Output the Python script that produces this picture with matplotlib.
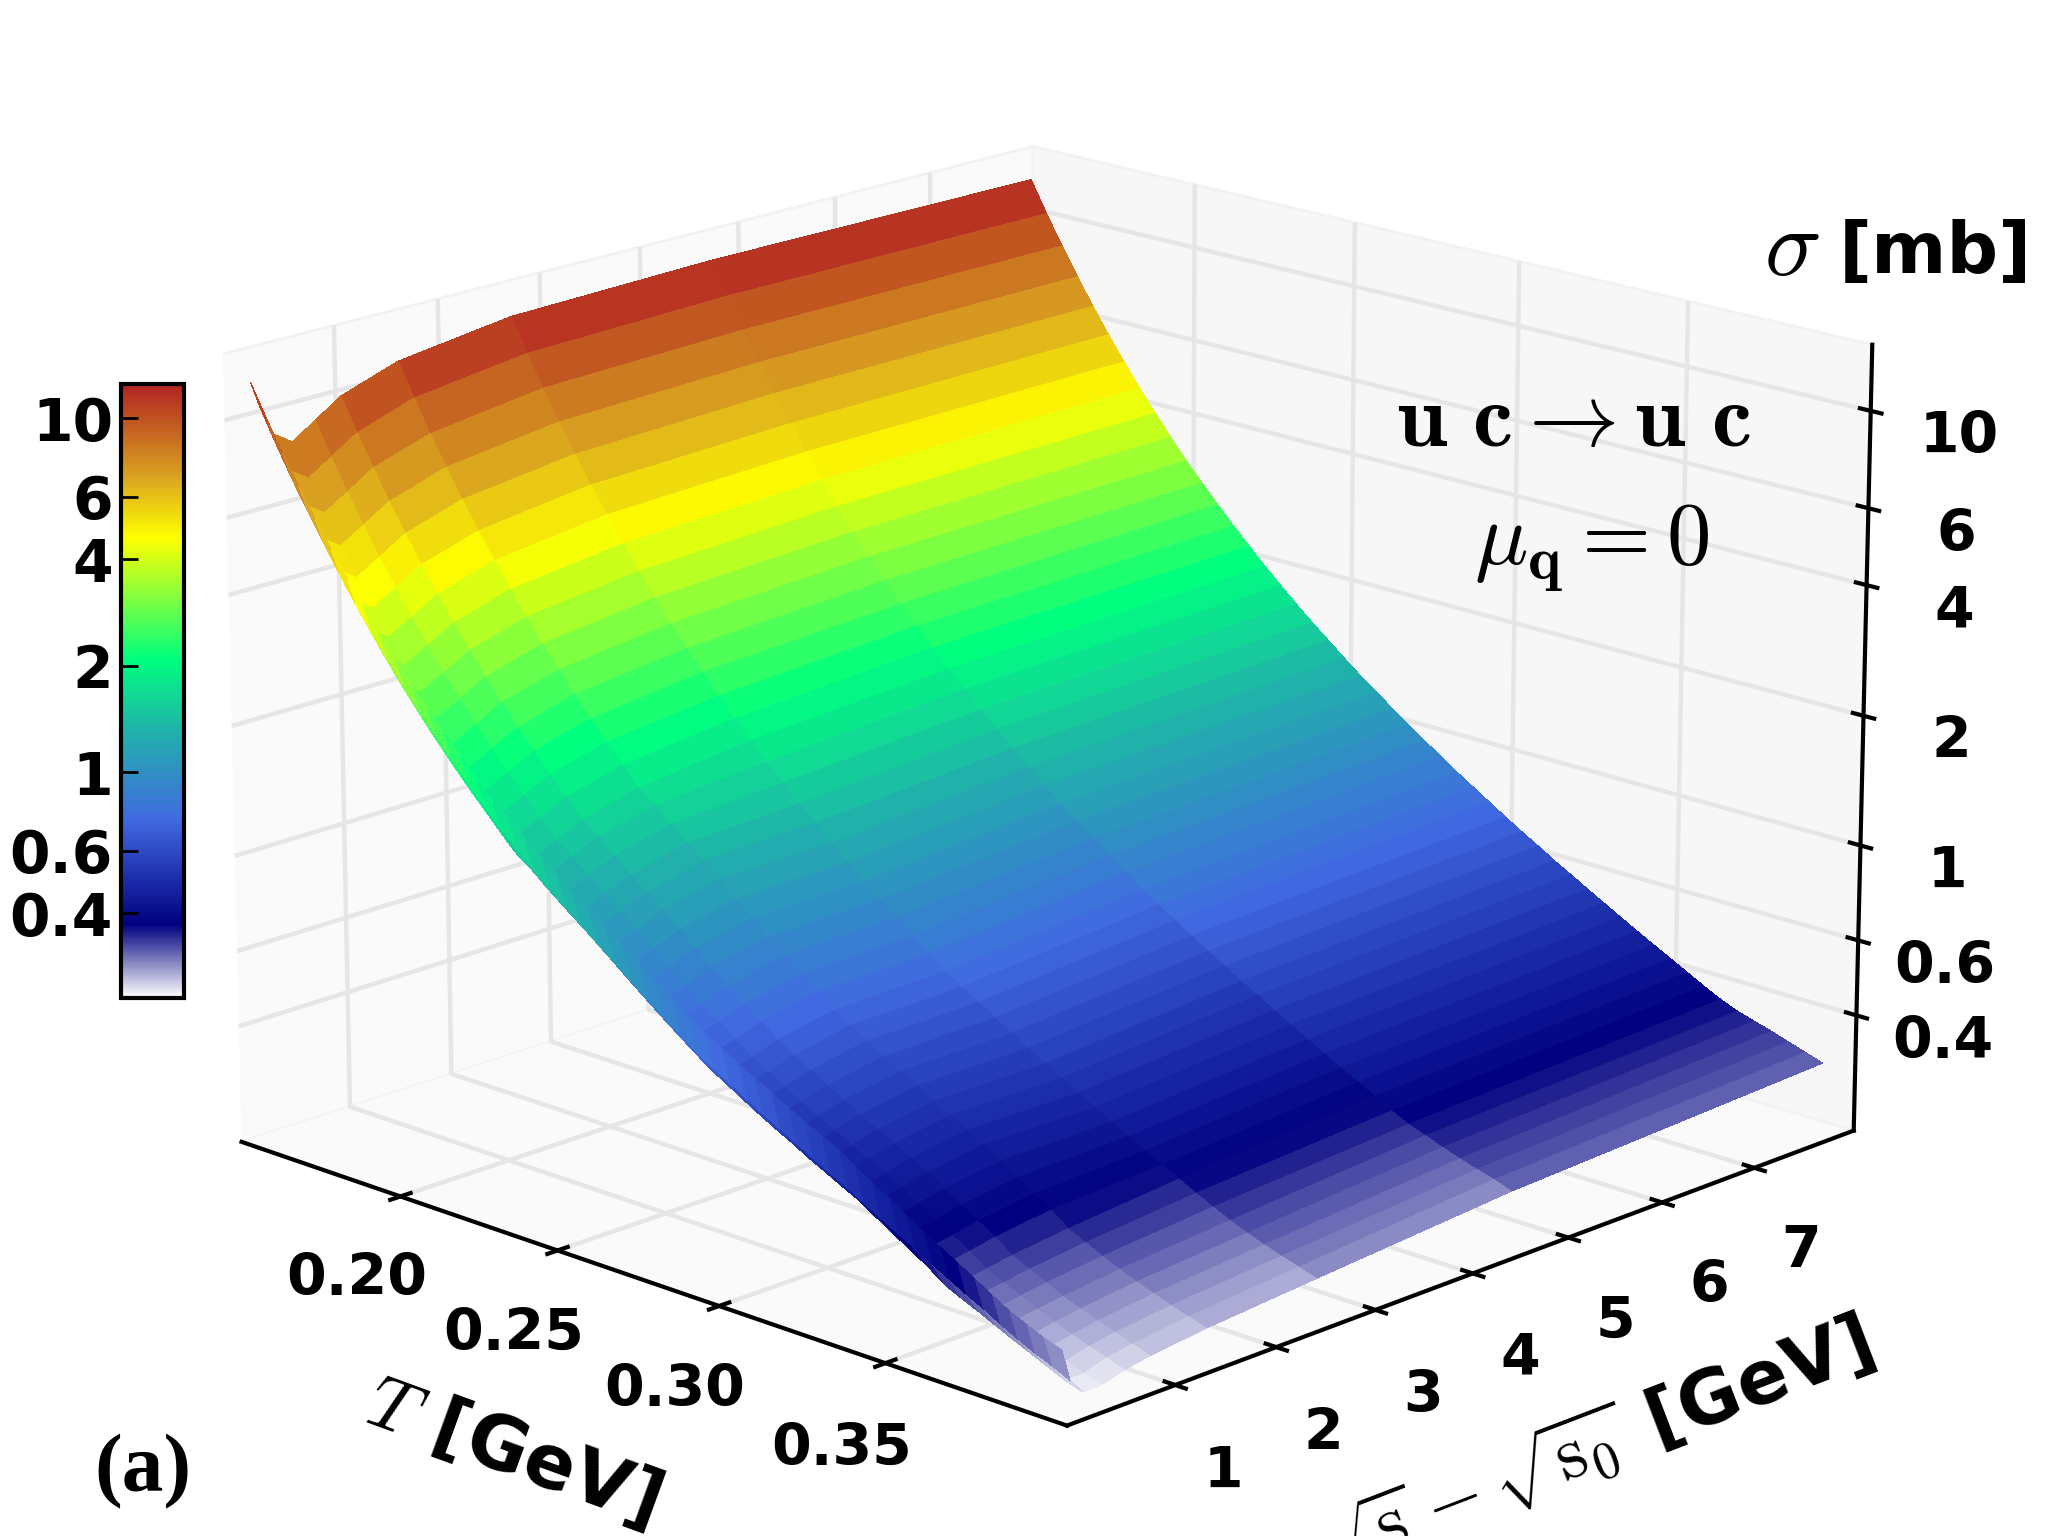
#!/usr/bin/env python3
"""
Cross section u c -> u c as a surface over temperature and energy.
"""

import numpy as np
import matplotlib
matplotlib.use("Agg")
import matplotlib.pyplot as plt
from matplotlib.colors import LinearSegmentedColormap, Normalize
from matplotlib.cm import ScalarMappable

plt.rcParams['mathtext.fontset'] = 'cm'
plt.rcParams['font.family'] = 'DejaVu Sans'

t_vals = [0.155, 0.160, 0.165, 0.170, 0.175, 0.180, 0.185, 0.190, 0.195, 0.200,
          0.205, 0.210, 0.215, 0.220, 0.225, 0.230, 0.235, 0.240, 0.245, 0.250,
          0.255, 0.260, 0.265, 0.270, 0.275, 0.280, 0.285, 0.290, 0.295, 0.300,
          0.305, 0.310, 0.315, 0.320, 0.325, 0.330, 0.335, 0.340, 0.345, 0.350,
          0.355, 0.360, 0.365, 0.370, 0.375, 0.380, 0.385, 0.390, 0.395, 0.400]
e_vals = [0.0, 0.08, 0.2, 0.38, 0.6, 0.85, 1.4, 2.5, 4.5, 7.85]
# log10(sigma / mb), one row per temperature, estimated from the surface colours
log_sigma = [
    [1.097, 1.037, 0.967, 0.937, 0.972, 1.012, 1.057, 1.092, 1.102, 1.097],
    [1.024, 0.963, 0.894, 0.864, 0.898, 0.937, 0.982, 1.016, 1.027, 1.024],
    [0.955, 0.893, 0.825, 0.795, 0.828, 0.867, 0.910, 0.945, 0.957, 0.955],
    [0.890, 0.828, 0.760, 0.730, 0.763, 0.800, 0.843, 0.877, 0.890, 0.890],
    [0.828, 0.765, 0.698, 0.668, 0.700, 0.737, 0.779, 0.812, 0.827, 0.828],
    [0.769, 0.705, 0.639, 0.609, 0.640, 0.676, 0.717, 0.751, 0.766, 0.769],
    [0.713, 0.648, 0.583, 0.553, 0.583, 0.619, 0.659, 0.692, 0.709, 0.713],
    [0.659, 0.594, 0.529, 0.499, 0.529, 0.563, 0.603, 0.635, 0.653, 0.659],
    [0.608, 0.542, 0.478, 0.448, 0.477, 0.511, 0.550, 0.581, 0.601, 0.608],
    [0.560, 0.493, 0.430, 0.400, 0.428, 0.461, 0.499, 0.531, 0.551, 0.560],
    [0.513, 0.445, 0.383, 0.353, 0.380, 0.413, 0.450, 0.481, 0.503, 0.513],
    [0.469, 0.401, 0.339, 0.309, 0.336, 0.367, 0.404, 0.434, 0.457, 0.469],
    [0.427, 0.358, 0.297, 0.267, 0.293, 0.324, 0.359, 0.390, 0.413, 0.427],
    [0.386, 0.316, 0.256, 0.226, 0.251, 0.281, 0.316, 0.346, 0.371, 0.386],
    [0.344, 0.275, 0.216, 0.186, 0.211, 0.240, 0.274, 0.304, 0.331, 0.347],
    [0.303, 0.235, 0.176, 0.148, 0.171, 0.200, 0.233, 0.264, 0.291, 0.309],
    [0.274, 0.202, 0.149, 0.121, 0.144, 0.172, 0.204, 0.225, 0.254, 0.273],
    [0.242, 0.166, 0.117, 0.090, 0.112, 0.140, 0.172, 0.188, 0.217, 0.238],
    [0.210, 0.133, 0.087, 0.060, 0.082, 0.108, 0.140, 0.151, 0.182, 0.204],
    [0.180, 0.101, 0.058, 0.033, 0.053, 0.079, 0.110, 0.117, 0.148, 0.172],
    [0.150, 0.070, 0.030, 0.005, 0.025, 0.050, 0.080, 0.082, 0.115, 0.140],
    [0.121, 0.040, -0.002, -0.027, -0.007, 0.017, 0.046, 0.049, 0.083, 0.109],
    [0.094, 0.011, -0.033, -0.056, -0.038, -0.014, 0.014, 0.017, 0.052, 0.080],
    [0.067, -0.018, -0.063, -0.086, -0.068, -0.045, -0.018, -0.014, 0.022, 0.051],
    [0.042, -0.046, -0.093, -0.115, -0.098, -0.076, -0.048, -0.045, -0.008, 0.023],
    [0.011, -0.076, -0.122, -0.144, -0.127, -0.106, -0.079, -0.075, -0.037, -0.005],
    [-0.018, -0.104, -0.150, -0.170, -0.155, -0.134, -0.108, -0.104, -0.065, -0.031],
    [-0.048, -0.133, -0.178, -0.198, -0.183, -0.163, -0.138, -0.133, -0.093, -0.058],
    [-0.070, -0.156, -0.200, -0.219, -0.205, -0.186, -0.161, -0.157, -0.118, -0.083],
    [-0.093, -0.178, -0.223, -0.241, -0.227, -0.208, -0.184, -0.181, -0.143, -0.108],
    [-0.115, -0.201, -0.245, -0.262, -0.248, -0.231, -0.208, -0.205, -0.167, -0.133],
    [-0.136, -0.223, -0.266, -0.282, -0.269, -0.252, -0.230, -0.228, -0.191, -0.157],
    [-0.156, -0.244, -0.286, -0.302, -0.289, -0.273, -0.251, -0.250, -0.214, -0.180],
    [-0.178, -0.265, -0.308, -0.322, -0.310, -0.294, -0.273, -0.274, -0.238, -0.204],
    [-0.197, -0.285, -0.327, -0.341, -0.329, -0.314, -0.293, -0.295, -0.259, -0.226],
    [-0.217, -0.306, -0.347, -0.360, -0.349, -0.334, -0.314, -0.317, -0.282, -0.249],
    [-0.236, -0.326, -0.366, -0.378, -0.367, -0.354, -0.335, -0.338, -0.304, -0.271],
    [-0.261, -0.348, -0.391, -0.402, -0.391, -0.378, -0.360, -0.359, -0.326, -0.293],
    [-0.285, -0.370, -0.415, -0.425, -0.415, -0.403, -0.385, -0.380, -0.347, -0.315],
    [-0.308, -0.391, -0.438, -0.447, -0.438, -0.426, -0.409, -0.400, -0.368, -0.336],
    [-0.332, -0.412, -0.462, -0.470, -0.461, -0.450, -0.433, -0.420, -0.389, -0.357],
    [-0.355, -0.434, -0.490, -0.497, -0.488, -0.478, -0.463, -0.440, -0.410, -0.378],
    [-0.378, -0.455, -0.508, -0.514, -0.506, -0.497, -0.482, -0.460, -0.431, -0.399],
    [-0.400, -0.476, -0.525, -0.531, -0.523, -0.514, -0.500, -0.479, -0.450, -0.419],
    [-0.423, -0.495, -0.543, -0.547, -0.540, -0.532, -0.517, -0.497, -0.464, -0.435],
    [-0.446, -0.517, -0.561, -0.565, -0.556, -0.547, -0.532, -0.513, -0.479, -0.447],
    [-0.468, -0.537, -0.578, -0.581, -0.571, -0.561, -0.546, -0.527, -0.493, -0.459],
    [-0.485, -0.555, -0.595, -0.597, -0.584, -0.574, -0.560, -0.540, -0.505, -0.472],
    [-0.502, -0.571, -0.612, -0.613, -0.597, -0.587, -0.572, -0.552, -0.516, -0.485],
    [-0.515, -0.589, -0.625, -0.625, -0.610, -0.600, -0.585, -0.565, -0.530, -0.498],
]
t_ticks = [0.20, 0.25, 0.30, 0.35]
t_labels = ['0.20', '0.25', '0.30', '0.35']
e_ticks = [1, 2, 3, 4, 5, 6, 7]
sigma_ticks = [0.4, 0.6, 1, 2, 4, 6, 10]
sigma_labels = ['0.4', '0.6', '1', '2', '4', '6', '10']

cmap = LinearSegmentedColormap.from_list('sigma', [
    (0.0, 'white'), (0.119, 'navy'), (0.29, 'royalblue'),
    (0.435, 'lightseagreen'), (0.552, 'springgreen'), (0.749, 'yellow'),
    (0.848, 'goldenrod'), (1.0, 'firebrick')], N=512)
norm = Normalize(-0.637, 1.097)

fig = plt.figure(figsize=(10.24, 7.68), dpi=200)
ax = fig.add_axes([0.002, 0.0, 1.0, 1.0], projection='3d')
ax.set_proj_type('persp', focal_length=1.3)
ax.view_init(elev=17.4, azim=-46.2)
ax.set_box_aspect((4, 4, 2.86), zoom=1.155)

T, E = np.meshgrid(t_vals, e_vals, indexing='ij')
surf = ax.plot_surface(T, E, np.array(log_sigma), rstride=1, cstride=1, cmap=cmap, norm=norm,
                       shade=False, linewidth=0, antialiased=False)
# the 3D axes box is square, the drawing runs past it on both sides
surf.set_clip_on(False)

ax.set_xlim(0.148, 0.403)
ax.set_ylim(-0.05, 8.1)
ax.set_zlim(-0.67, 1.15)
ax.set_xticks(t_ticks)
ax.set_xticklabels(t_labels)
ax.set_yticks(e_ticks)
ax.set_yticklabels([str(e) for e in e_ticks])
ax.set_zticks(np.log10(sigma_ticks))
ax.set_zticklabels(sigma_labels)

for axis, pane in zip((ax.xaxis, ax.yaxis, ax.zaxis), (0.98, 0.97, 0.98)):
    axis.set_pane_color((pane, pane, pane, 1.0))
    axis.pane.set_edgecolor((0.95, 0.95, 0.95))
    axis._axinfo['grid'].update(color=(0.9, 0.9, 0.9), linewidth=1.6)
    axis._axinfo['tick'].update(inward_factor=0.15, outward_factor=0.15, linewidth={True: 1.5, False: 1.0})
    axis.line.set_linewidth(1.5)
    axis.line.set_color('black')
for axis, pad in ((ax.xaxis, 7), (ax.yaxis, 7.5), (ax.zaxis, 7.5)):
    axis.set_tick_params(pad=pad, labelsize=20.5)
    for lab in axis.get_ticklabels():
        lab.set_fontweight('bold')

fig.text(0.992, 0.835, '[mb]', fontsize=26, fontweight='bold', ha='right', va='center')
fig.text(0.875, 0.838, r'$\sigma$', fontsize=34, ha='center', va='center')
fig.text(0.768, 0.726, r'$\mathbf{u\ c}\rightarrow\mathbf{u\ c}$', fontsize=32.5, ha='center', va='center')
fig.text(0.777, 0.643, r'$\mu_{\mathbf{q}}=0$', fontsize=32, ha='center', va='center')
fig.text(0.07, 0.042, '(a)', family='Liberation Serif', fontweight='bold', fontsize=30, ha='center', va='center')
fig.text(0.25, 0.054, r'$T$ [GeV]', fontsize=27, fontweight='bold', rotation=-20,
         rotation_mode='anchor', ha='center', va='center')
fig.text(0.912, 0.127, r'$\sqrt{\mathrm{s}}-\sqrt{\mathrm{s}_0}$ [GeV]', fontsize=27, fontweight='bold', rotation=21,
         rotation_mode='anchor', ha='right', va='center')

cax = fig.add_axes([0.0593, 0.3503, 0.0306, 0.3997])
cb = fig.colorbar(ScalarMappable(norm=norm, cmap=cmap), cax=cax)
cb.set_ticks(np.log10(sigma_ticks))
cb.set_ticklabels(sigma_labels)
cb.ax.yaxis.set_ticks_position('left')
cb.ax.tick_params(direction='in', length=6, width=1, labelsize=21, pad=3)
for lab in cb.ax.get_yticklabels():
    lab.set_fontweight('bold')
cb.outline.set_linewidth(1.5)

fig.savefig('out.png', dpi=200)
